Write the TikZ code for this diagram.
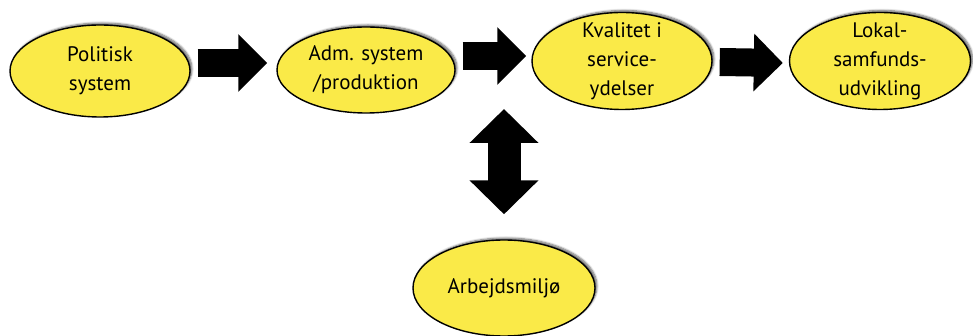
\documentclass[tikz,border=0pt]{standalone}
\usepackage{fontspec}
\setmainfont{PT Sans}
\usetikzlibrary{shapes.geometric,arrows.meta,shadows.blur}
\definecolor{boblegul}{RGB}{250,234,72}

\begin{document}
\begin{tikzpicture}[x=1pt,y=-1pt,
        boble/.style={ellipse, draw=black, line width=1.4pt, fill=boblegul,
            inner sep=0pt, minimum width=180pt,
            blur shadow={shadow xshift=2pt, shadow yshift=2pt, shadow blur steps=6, shadow opacity=60}},
        tekst/.style={font=\fontsize{21}{29}\selectfont, align=center, inner sep=0pt},
        pil/.style={line width=28pt, -{Triangle[length=29pt, width=56pt]}},
        dobbeltpil/.style={line width=33pt,
            {Triangle[length=34pt, width=67pt]}-{Triangle[length=34pt, width=67pt]}}]

        % Ramme
        \useasboundingbox (0,0) rectangle (973,336);

        % Bobler
        \node[boble, minimum height=92pt, label={[tekst]center:Politisk\\system}] (politisk) at (100,71) {};
        \node[boble, minimum width=178pt, minimum height=86pt, label={[tekst]center:Adm. system\\/produktion}] (adm) at (366,70) {};
        \node[boble, minimum height=97pt, label={[tekst]center:Kvalitet i\\service-\\ydelser}] (kvalitet) at (622,61) {};
        \node[boble, minimum width=181pt, minimum height=97pt, label={[tekst]center:Lokal-\\samfunds-\\udvikling}] (lokal) at (880,61) {};
        \node[boble, minimum width=182pt, minimum height=96pt, label={[tekst]center:Arbejdsmiljø}] (arbejde) at (504,288) {};

        % Pile
        \draw[pil] ([shift={(7,-8)}]politisk.east) -- ([shift={(-9,-7)}]adm.west);
        \draw[pil] ([shift={(7,-14)}]adm.east) -- ([shift={(-5,-5)}]kvalitet.west);
        \draw[pil] ([shift={(7,1)}]kvalitet.east) -- ([shift={(-6,2)}]lokal.west);

        \coordinate (knude) at (504,109);
        \draw[dobbeltpil, shorten >=25pt] (knude) -- (knude |- arbejde.north);

    \end{tikzpicture}
\end{document}
